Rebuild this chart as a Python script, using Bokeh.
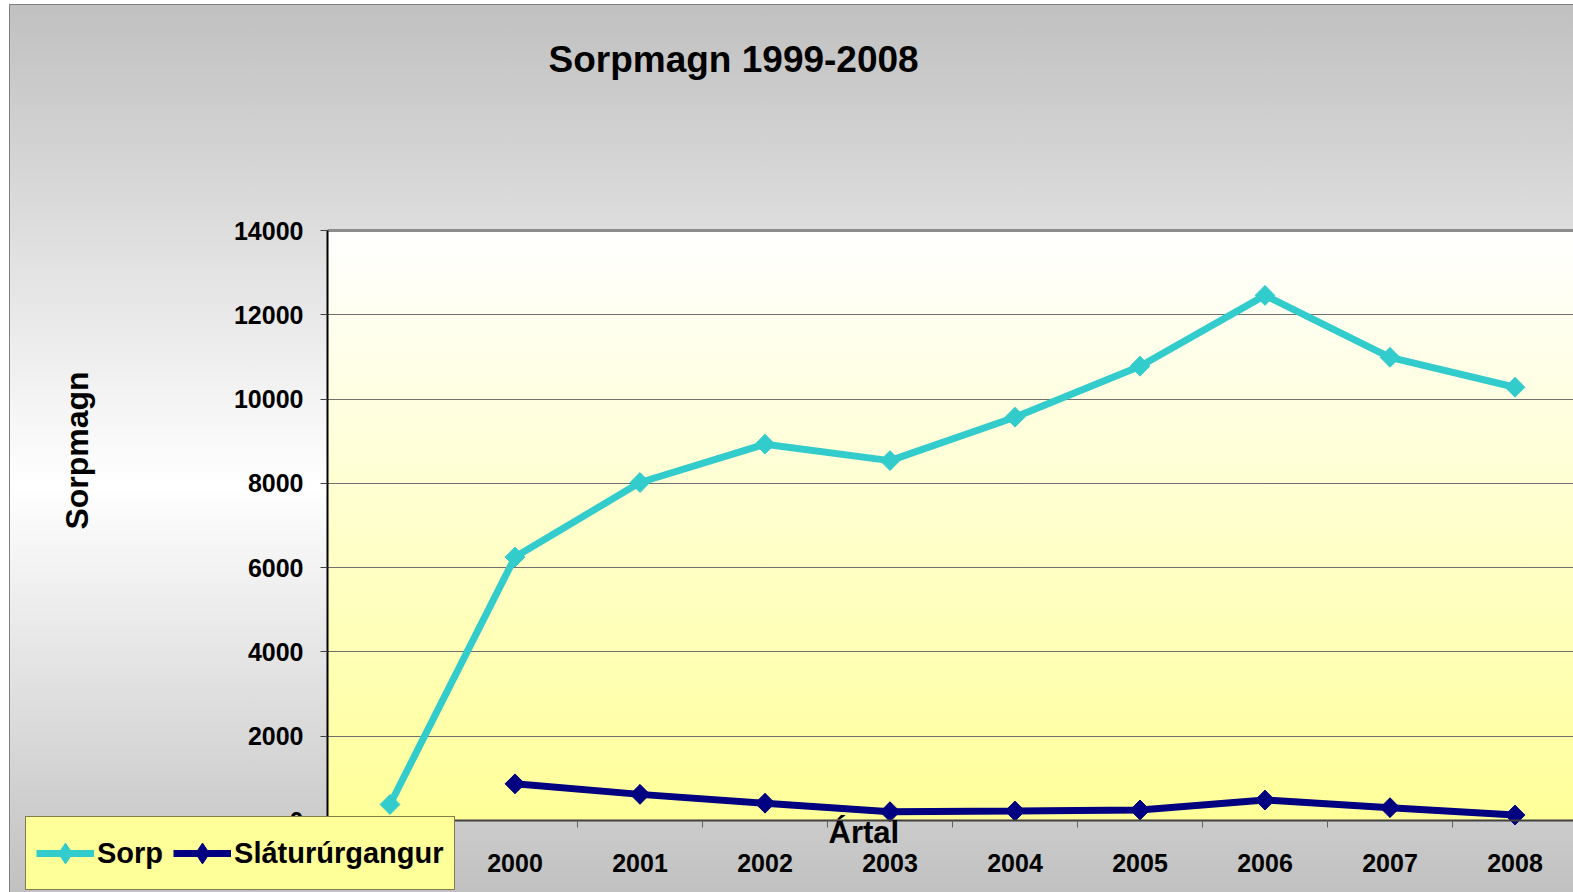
import math
from bokeh.plotting import figure
from bokeh.models import Range1d, FixedTicker, Label, Legend, LegendItem, Grid
from bokeh.embed import file_html
from bokeh.resources import INLINE

# ---- data ----
years = [1999, 2000, 2001, 2002, 2003, 2004, 2005, 2006, 2007, 2008]
sorp = [380, 6250, 8020, 8930, 8540, 9570, 10780, 12460, 10990, 10280]
slatur = [float("nan"), 870, 620, 410, 210, 225, 250, 485, 305, 130]
y_ticks = [0, 2000, 4000, 6000, 8000, 10000, 12000, 14000]
year_labels = [str(y) for y in years]
title_text = "Sorpmagn 1999-2008"
y_title = "Sorpmagn"
x_title = "Ártal"
series_names = ["Sorp", "Sláturúrgangur"]
series_colors = ["#33CCCC", "#000080"]

# ---- layout (pixels) ----
W, H = 1573, 892
PLOT_L, PLOT_T, PLOT_B = 327, 230, 820
CAT_PX = 125
Y_MAX = y_ticks[-1]
YPX = (PLOT_B - PLOT_T) / Y_MAX
X_LEFT = years[0] - 0.5
x_start = X_LEFT - PLOT_L / CAT_PX
x_end = x_start + W / CAT_PX
y_start = -(H - PLOT_B) / YPX
y_end = y_start + H / YPX
FONT = "Liberation Sans"


def dx(px):
    return x_start + px / CAT_PX


def dy(py):
    return y_start + (H - py) / YPX


p = figure(width=W, height=H, x_range=Range1d(x_start, x_end),
           y_range=Range1d(y_start, y_end), title=None,
           output_backend="svg", toolbar_location=None,
           min_border_left=0, min_border_right=0, min_border_top=0,
           min_border_bottom=0, background_fill_color=None,
           border_fill_color=None, outline_line_color=None)

pw, ph = W - PLOT_L, PLOT_B - PLOT_T
p.styles = {
    "background-color": "#ffffff",
    "background-image": ", ".join([
        "linear-gradient(to bottom, #ffffff 0%, #ffff99 100%)",
        "linear-gradient(#808080, #808080)",
        "linear-gradient(#808080, #808080)",
        "linear-gradient(to bottom, #c0c0c0 0%, #ffffff 54%, #c0c0c0 100%)",
    ]),
    "background-position": f"{PLOT_L}px {PLOT_T}px, 9px 4px, 9px 4px, 9px 4px",
    "background-size": f"{pw}px {ph}px, 100% 1px, 1px 100%, 100% 100%",
    "background-repeat": "no-repeat",
}

# x axis
xa = p.xaxis[0]
xa.fixed_location = 0
xa.bounds = (X_LEFT, x_end)
xa.ticker = FixedTicker(ticks=years, minor_ticks=[y + 0.5 for y in [years[0] - 1] + years])
xa.major_label_overrides = {y: lab for y, lab in zip(years, year_labels)}
xa.major_tick_out = 0
xa.major_tick_in = 0
xa.minor_tick_out = 7
xa.minor_tick_in = 0
xa.minor_tick_line_color = "#606060"
xa.axis_line_color = "#404040"
xa.axis_line_width = 2
xa.major_label_text_font = FONT
xa.major_label_text_font_style = "bold"
xa.major_label_text_font_size = "25px"
xa.major_label_text_color = "black"
xa.major_label_standoff = 26
p.xgrid.visible = False

# y axis
ya = p.yaxis[0]
ya.fixed_location = X_LEFT
ya.bounds = (0, Y_MAX)
ya.ticker = FixedTicker(ticks=y_ticks)
ya.minor_tick_line_color = None
ya.major_tick_out = 7
ya.major_tick_in = 0
ya.major_tick_line_color = "#404040"
ya.axis_line_color = "black"
ya.axis_line_width = 2
ya.major_label_text_font = FONT
ya.major_label_text_font_style = "bold"
ya.major_label_text_font_size = "25px"
ya.major_label_text_color = "black"
ya.major_label_standoff = 17
p.ygrid.grid_line_color = "#707070"
p.ygrid.grid_line_width = 1
p.ygrid.cross_bounds = (X_LEFT, x_end)

# top border of the plot area
p.add_layout(Grid(dimension=1, ticker=FixedTicker(ticks=[Y_MAX]),
                  cross_bounds=(X_LEFT, x_end), grid_line_color="#8c8c8c",
                  grid_line_width=3))

# series: line + rotated-square markers, with a diamond marker inside
# (the diamond is what the legend swatch shows)
r1 = p.line(years, sorp, line_color=series_colors[0], line_width=7)
s1 = p.scatter(years, sorp, marker="square", angle=math.pi / 4, size=14,
               fill_color=series_colors[0], line_color=series_colors[0])
m1 = p.scatter(years, sorp, marker="diamond", size=19,
               fill_color=series_colors[0], line_color=series_colors[0])
r2 = p.line(years, slatur, line_color=series_colors[1], line_width=7)
s2 = p.scatter(years, slatur, marker="square", angle=math.pi / 4, size=14,
               fill_color=series_colors[1], line_color=series_colors[1])
m2 = p.scatter(years, slatur, marker="diamond", size=19,
               fill_color=series_colors[1], line_color=series_colors[1])

legend = Legend(items=[LegendItem(label=series_names[0], renderers=[r1, m1]),
                       LegendItem(label=series_names[1], renderers=[r2, m2])],
                location=(25, 2), orientation="horizontal",
                glyph_width=58, glyph_height=52, label_height=52,
                label_standoff=3, spacing=10, padding=10, margin=0,
                label_text_font=FONT, label_text_font_style="bold",
                label_text_font_size="29px", label_text_color="black",
                border_line_color="black", border_line_width=1,
                background_fill_color="#FFFF99", background_fill_alpha=1)
p.add_layout(legend)

# texts
p.add_layout(Label(x=dx(548), y=dy(59), text=title_text, text_font=FONT,
                   text_font_style="bold", text_font_size="37px",
                   text_color="black", text_align="left",
                   text_baseline="alphabetic"))
p.add_layout(Label(x=dx(76), y=dy(450), text=y_title, angle=math.pi / 2,
                   text_font=FONT, text_font_style="bold", text_font_size="32px",
                   text_color="black", text_align="center",
                   text_baseline="alphabetic"))
p.add_layout(Label(x=dx(828), y=dy(832), text=x_title, text_font=FONT,
                   text_font_style="bold", text_font_size="31px",
                   text_color="black", text_align="left",
                   text_baseline="alphabetic"))

open("out.html", "w").write(file_html(p, INLINE))
